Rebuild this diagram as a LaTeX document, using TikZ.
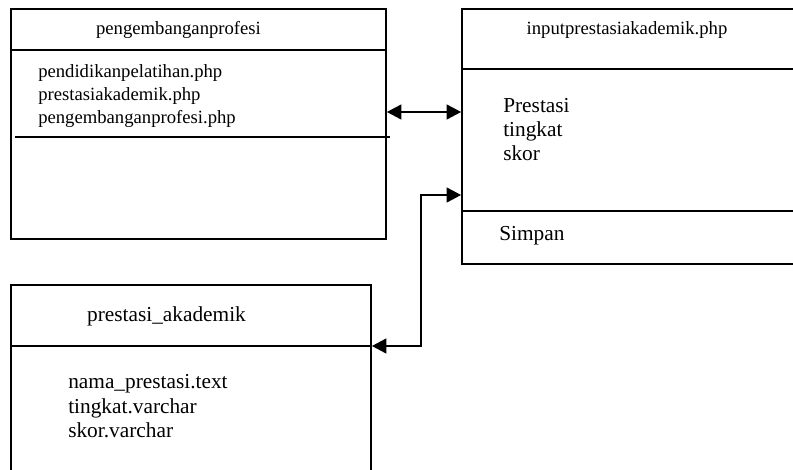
\documentclass[tikz,border=0pt]{standalone}
\usepackage{fontspec}
\setmainfont{Liberation Serif}
\usetikzlibrary{arrows.meta,calc}
\tikzset{
  boxshape/.style={draw, line width=1.2pt, rectangle, inner sep=0pt},
  divline/.style={line width=1.2pt},
  small/.style={font=\fontsize{14pt}{17pt}\selectfont, inner sep=0pt},
  big/.style={font=\fontsize{16pt}{18pt}\selectfont, inner sep=0pt},
  conn/.style={line width=2pt, {Triangle[length=11pt,width=11pt]}-{Triangle[length=11pt,width=11pt]}},
}
\begin{document}
\begin{tikzpicture}[x=0.75pt,y=-0.75pt]
\useasboundingbox (0,0) rectangle (793,470);
\clip (0,0) rectangle (793,470);
% boxes
\node[boxshape, minimum width=375*0.75pt, minimum height=230*0.75pt] (b1) at (198.5,124) {};
\node[boxshape, minimum width=340*0.75pt, minimum height=255*0.75pt] (b2) at (632,136.5) {};
\node[boxshape, minimum width=360*0.75pt, minimum height=215*0.75pt] (b3) at (191,392.5) {};
% dividers
\draw[divline] (b1.west |- 0,50) -- (b1.east |- 0,50);
\draw[divline] (15,137) -- (390,137);
\draw[divline] (b2.west |- 0,69) -- (b2.east |- 0,69);
\draw[divline] (b2.west |- 0,211) -- (b2.east |- 0,211);
\draw[divline] (b3.west |- 0,346) -- (b3.east |- 0,346);
% texts box1
\node[small, anchor=base] (t1) at (178.5,35) {pengembanganprofesi};
\node[small, anchor=base west] (i1) at (38,78) {pendidikanpelatihan.php};
\node[small, anchor=base west] (i2) at (38,101) {prestasiakademik.php};
\node[small, anchor=base west] (i3) at (38,124) {pengembanganprofesi.php};
% texts box2
\node[small, anchor=base] (t2) at (627,35) {inputprestasiakademik.php};
\node[big, anchor=base west] (p1) at (503,112.5) {Prestasi};
\node[big, anchor=base west] (p2) at (503,136.5) {tingkat};
\node[big, anchor=base west] (p3) at (503,160.5) {skor};
\node[big, anchor=base west] (p4) at (499,240.5) {Simpan};
% texts box3
\node[big, anchor=base] (t3) at (166.5,321.5) {prestasi\_akademik};
\node[big, anchor=base west] (n1) at (68,388.5) {nama\_prestasi.text};
\node[big, anchor=base west] (n2) at (68,413) {tingkat.varchar};
\node[big, anchor=base west] (n3) at (68,437) {skor.varchar};
% connectors
\coordinate (c1) at (421,195);
\draw[conn] (b1.east |- 0,112) -- (b2.west |- 0,112);
\draw[conn] (b3.east |- 0,346) -| (c1) -- (b2.west |- c1);
\end{tikzpicture}
\end{document}
